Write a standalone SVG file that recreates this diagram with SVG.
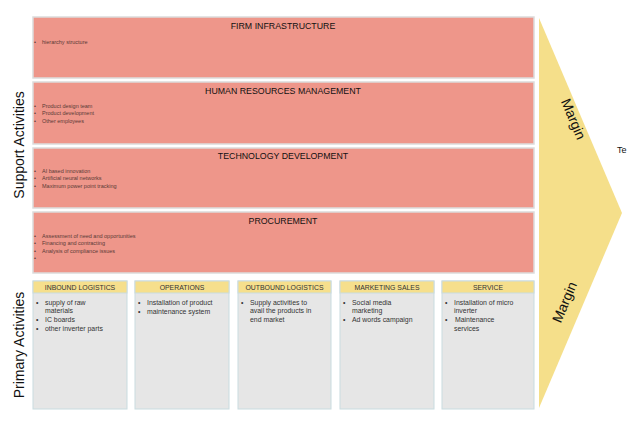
<svg xmlns="http://www.w3.org/2000/svg" width="628" height="439" viewBox="0 0 628 439">
<style>
.sup{fill:#EE968A;stroke:#DCDCDC;stroke-width:1.5}
.hd{font-family:"Liberation Sans",Arial,sans-serif;font-size:8.8px;fill:#111;text-anchor:middle}
.sb{font-family:"Liberation Sans",Arial,sans-serif;font-size:5.5px;fill:#5a3a36}
.pbody{fill:#E6E6E6;stroke:#C9DCE0;stroke-width:1}
.phead{fill:#F6DF8C;stroke:#C9DCE0;stroke-width:1}
.ph{font-family:"Liberation Sans",Arial,sans-serif;font-size:6.9px;fill:#333;text-anchor:middle}
.pb{font-family:"Liberation Sans",Arial,sans-serif;font-size:6.9px;fill:#333}
.side{font-family:"Liberation Sans",Arial,sans-serif;font-size:14px;fill:#111;text-anchor:middle}
.mg{font-family:"Liberation Sans",Arial,sans-serif;font-size:14px;fill:#111;text-anchor:middle}
</style>
<rect width="628" height="439" fill="#ffffff"/>
<g id="margin-arrow">
<polygon points="539,18 622,213 539,408" fill="#F5DF8A"/>
<text class="mg" transform="translate(569,121) rotate(67)">Margin</text>
<text class="mg" transform="translate(569,304) rotate(-67)">Margin</text>
</g>
<text x="617" y="153" font-family="Liberation Sans, Arial, sans-serif" font-size="9px" fill="#111">Te</text>
<text class="side" transform="translate(24,145) rotate(-90)">Support Activities</text>
<text class="side" transform="translate(24,345) rotate(-90)">Primary Activities</text>
<g id="firm-infrastructure">
<rect class="sup" x="33" y="17" width="501" height="61"/>
<text class="hd" x="283" y="29">FIRM INFRASTRUCTURE</text>
<text class="sb" x="34" y="44">•</text><text class="sb" x="42" y="44">hierarchy structure</text>
</g>
<g id="hrm">
<rect class="sup" x="33" y="82" width="501" height="62"/>
<text class="hd" x="283" y="94">HUMAN RESOURCES MANAGEMENT</text>
<text class="sb" x="34" y="108">•</text><text class="sb" x="42" y="108">Product design team</text>
<text class="sb" x="34" y="115">•</text><text class="sb" x="42" y="115">Product development</text>
<text class="sb" x="34" y="123">•</text><text class="sb" x="42" y="123">Other employees</text>
</g>
<g id="technology-development">
<rect class="sup" x="33" y="148" width="501" height="60"/>
<text class="hd" x="283" y="159">TECHNOLOGY DEVELOPMENT</text>
<text class="sb" x="34" y="173">•</text><text class="sb" x="42" y="173">AI based innovation</text>
<text class="sb" x="34" y="180">•</text><text class="sb" x="42" y="180">Artificial neural networks</text>
<text class="sb" x="34" y="188">•</text><text class="sb" x="42" y="188">Maximum power point tracking</text>
</g>
<g id="procurement">
<rect class="sup" x="33" y="212" width="501" height="61"/>
<text class="hd" x="283" y="224">PROCUREMENT</text>
<text class="sb" x="34" y="238">•</text><text class="sb" x="42" y="238">Assessment of need and opportunities</text>
<text class="sb" x="34" y="245">•</text><text class="sb" x="42" y="245">Financing and contracting</text>
<text class="sb" x="34" y="253">•</text><text class="sb" x="42" y="253">Analysis of compliance issues</text>
<text class="sb" x="34" y="260">•</text>
</g>
<g id="inbound-logistics">
<rect class="pbody" x="33" y="281" width="94" height="128"/>
<rect class="phead" x="33" y="281" width="94" height="12"/>
<text class="ph" x="80" y="290">INBOUND LOGISTICS</text>
<text class="pb" x="36" y="305">•</text><text class="pb" x="45" y="305">supply of raw</text>
<text class="pb" x="45" y="313">materials</text>
<text class="pb" x="36" y="322">•</text><text class="pb" x="45" y="322">IC boards</text>
<text class="pb" x="36" y="331">•</text><text class="pb" x="45" y="331">other inverter parts</text>
</g>
<g id="operations">
<rect class="pbody" x="135" y="281" width="94" height="128"/>
<rect class="phead" x="135" y="281" width="94" height="12"/>
<text class="ph" x="182" y="290">OPERATIONS</text>
<text class="pb" x="138" y="305">•</text><text class="pb" x="147" y="305">Installation of product</text>
<text class="pb" x="138" y="314">•</text><text class="pb" x="147" y="314">maintenance system</text>
</g>
<g id="outbound-logistics">
<rect class="pbody" x="238" y="281" width="93" height="128"/>
<rect class="phead" x="238" y="281" width="93" height="12"/>
<text class="ph" x="284.5" y="290">OUTBOUND LOGISTICS</text>
<text class="pb" x="241" y="305">•</text><text class="pb" x="250" y="305">Supply activities to</text>
<text class="pb" x="250" y="313">avail the products in</text>
<text class="pb" x="250" y="322">end market</text>
</g>
<g id="marketing-sales">
<rect class="pbody" x="340" y="281" width="94" height="128"/>
<rect class="phead" x="340" y="281" width="94" height="12"/>
<text class="ph" x="387" y="290">MARKETING SALES</text>
<text class="pb" x="343" y="305">•</text><text class="pb" x="352" y="305">Social media</text>
<text class="pb" x="352" y="313">marketing</text>
<text class="pb" x="343" y="322">•</text><text class="pb" x="352" y="322">Ad words campaign</text>
</g>
<g id="service">
<rect class="pbody" x="442" y="281" width="92" height="128"/>
<rect class="phead" x="442" y="281" width="92" height="12"/>
<text class="ph" x="488" y="290">SERVICE</text>
<text class="pb" x="445" y="305">•</text><text class="pb" x="454" y="305">Installation of micro</text>
<text class="pb" x="454" y="313">inverter</text>
<text class="pb" x="445" y="322">•</text><text class="pb" x="455" y="322">Maintenance</text>
<text class="pb" x="454" y="331">services</text>
</g>
<g id="connectors"></g>
</svg>
